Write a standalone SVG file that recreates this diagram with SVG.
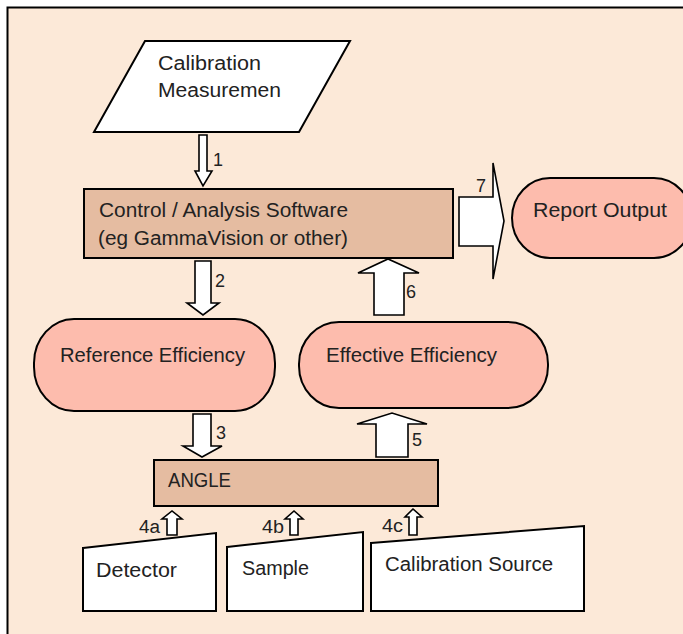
<svg xmlns="http://www.w3.org/2000/svg" width="683" height="634" viewBox="0 0 683 634">
  <style>
    .t { font-family: "Liberation Sans", Arial, sans-serif; font-size: 19.5px; fill: #222222; }
    .n { font-family: "Liberation Sans", Arial, sans-serif; font-size: 18px; fill: #222222; }
    .white { fill: #ffffff; stroke: #000000; stroke-width: 2; stroke-linejoin: miter; }
    .box { fill: #E5BCA1; stroke: #000000; stroke-width: 2; }
    .pill { fill: #FDBCAD; stroke: #000000; stroke-width: 2; }
    .arr { fill: #ffffff; stroke: #000000; stroke-width: 1.6; stroke-linejoin: miter; }
  </style>
  <rect x="0" y="0" width="683" height="634" fill="#ffffff"/>
  <rect id="frame" x="7.5" y="7.5" width="700" height="700" fill="#FCE9D8" stroke="#000000" stroke-width="2"/>

  <g id="calibration-measurement">
    <polygon class="white" points="145,41 350,41 299,132 94,132"/>
    <text class="t" x="158" y="70" textLength="103" lengthAdjust="spacingAndGlyphs">Calibration</text>
    <text class="t" x="158" y="97" textLength="123" lengthAdjust="spacingAndGlyphs">Measuremen</text>
  </g>

  <g id="control-software">
    <rect class="box" x="84" y="189" width="369" height="69"/>
    <text class="t" x="99" y="217" textLength="249" lengthAdjust="spacingAndGlyphs">Control / Analysis Software</text>
    <text class="t" x="98" y="245" textLength="250" lengthAdjust="spacingAndGlyphs">(eg GammaVision or other)</text>
  </g>

  <g id="report-output">
    <rect class="pill" x="512" y="178" width="180" height="80" rx="38" ry="40"/>
    <text class="t" x="533" y="217" textLength="134" lengthAdjust="spacingAndGlyphs">Report Output</text>
  </g>

  <g id="reference-efficiency">
    <rect class="pill" x="34" y="319" width="241" height="92" rx="40" ry="44"/>
    <text class="t" x="60" y="362" textLength="185" lengthAdjust="spacingAndGlyphs">Reference Efficiency</text>
  </g>

  <g id="effective-efficiency">
    <rect class="pill" x="299" y="322" width="249" height="86" rx="40" ry="42"/>
    <text class="t" x="326" y="362" textLength="171" lengthAdjust="spacingAndGlyphs">Effective Efficiency</text>
  </g>

  <g id="angle">
    <rect class="box" x="154" y="460" width="284" height="46"/>
    <text class="t" x="168" y="487" textLength="63" lengthAdjust="spacingAndGlyphs">ANGLE</text>
  </g>

  <g id="detector">
    <polygon class="white" points="83,548 216,533 216,611 83,611"/>
    <text class="t" x="96" y="577" textLength="81" lengthAdjust="spacingAndGlyphs">Detector</text>
  </g>

  <g id="sample">
    <polygon class="white" points="227,547 363,532 363,611 227,611"/>
    <text class="t" x="242" y="575" textLength="67" lengthAdjust="spacingAndGlyphs">Sample</text>
  </g>

  <g id="calibration-source">
    <polygon class="white" points="371,543 584,526 584,611 371,611"/>
    <text class="t" x="385" y="571" textLength="168" lengthAdjust="spacingAndGlyphs">Calibration Source</text>
  </g>

  <g id="connectors">
    <polygon class="arr" points="199,135 207,135 207,171 212,171 203,186 195,171 199,171"/>
    <text class="n" x="213" y="166">1</text>

    <polygon class="arr" points="195,261 211,261 211,303 219,303 203,315 187,303 195,303"/>
    <text class="n" x="215" y="287">2</text>

    <polygon class="arr" points="193,414 211,414 211,446 222,446 202,457 183,446 193,446"/>
    <text class="n" x="216" y="439">3</text>

    <polygon class="arr" points="167,535 177,535 177,519 182,519 172,511 162,519 167,519"/>
    <text class="n" x="139" y="533" textLength="21" lengthAdjust="spacingAndGlyphs">4a</text>

    <polygon class="arr" points="290,535 298,535 298,519 303,519 294,511 285,519 290,519"/>
    <text class="n" x="262" y="533" textLength="22" lengthAdjust="spacingAndGlyphs">4b</text>

    <polygon class="arr" points="409,535 417,535 417,517 422,517 413,509 405,517 409,517"/>
    <text class="n" x="382" y="532" textLength="21" lengthAdjust="spacingAndGlyphs">4c</text>

    <polygon class="arr" points="376,457 408,457 408,424 427,424 392,413 357,424 376,424"/>
    <text class="n" x="412" y="446">5</text>

    <polygon class="arr" points="374,315 404,315 404,273 419,273 388,259 358,273 374,273"/>
    <text class="n" x="406" y="298">6</text>

    <polygon class="arr" points="459,197 493,197 493,163 504,221 493,279 493,246 459,246"/>
    <text class="n" x="476" y="192">7</text>
  </g>
</svg>
